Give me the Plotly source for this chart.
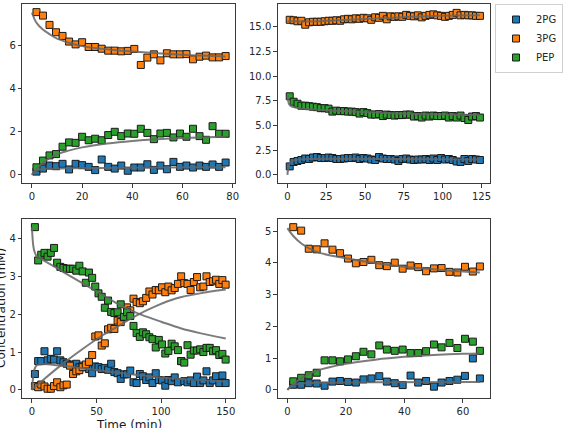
import plotly.graph_objects as go
from plotly.subplots import make_subplots

# ---------------- data ----------------
species = ["2PG", "3PG", "PEP"]
colors = {"2PG": "#1f77b4", "3PG": "#ff7f0e", "PEP": "#2ca02c"}

# Panel A (top-left)
tA = [1.8, 4.4, 7.0, 9.6, 12.2, 14.8, 17.4, 20.0, 22.6, 25.2, 27.8, 30.4, 33.0, 35.6, 38.2,
      40.8, 43.4, 46.0, 48.6, 51.2, 53.8, 56.4, 59.0, 61.6, 64.2, 66.8, 69.4, 72.0, 74.6, 77.2]
A_3PG = [7.52, 7.36, 6.93, 6.59, 6.42, 6.16, 6.03, 6.13, 5.91, 5.91, 5.83, 5.74, 5.74, 5.71, 5.73,
         5.82, 5.08, 5.42, 5.57, 5.29, 5.62, 5.57, 5.57, 5.58, 5.34, 5.46, 5.51, 5.43, 5.43, 5.49]
A_PEP = [0.35, 0.66, 0.90, 0.96, 1.30, 1.50, 1.48, 1.76, 1.60, 1.67, 1.60, 1.84, 1.99, 1.79, 1.91,
         1.90, 2.13, 1.94, 1.65, 1.91, 1.94, 1.73, 1.91, 1.76, 2.13, 1.79, 1.62, 2.25, 1.90, 1.90]
A_2PG = [0.15, 0.29, 0.43, 0.40, 0.51, 0.25, 0.51, 0.45, 0.37, 0.22, 0.71, 0.37, 0.29, 0.43, 0.19,
         0.34, 0.34, 0.49, 0.23, 0.43, 0.26, 0.60, 0.37, 0.43, 0.34, 0.43, 0.37, 0.48, 0.37, 0.57]
fitA_t3 = [0, 0.5, 1, 2, 4, 7, 10, 15, 20, 30, 40, 50, 60, 70, 77.2]
fitA_3PG = [7.5, 7.35, 7.2, 7.0, 6.75, 6.5, 6.3, 6.1, 5.95, 5.8, 5.7, 5.62, 5.55, 5.5, 5.47]
fitA_tP = [0, 2, 5, 10, 15, 20, 30, 40, 50, 60, 70, 77.2]
fitA_PEP = [0, 0.3, 0.62, 0.95, 1.13, 1.27, 1.45, 1.57, 1.65, 1.7, 1.74, 1.76]
fitA_t2 = [0, 1, 3, 6, 15, 30, 50, 77.2]
fitA_2PG = [0, 0.15, 0.25, 0.28, 0.30, 0.32, 0.34, 0.35]

# Panel B (top-right)
tB = [1.5, 4.0, 6.5, 9.0, 11.5, 14.0, 16.5, 19.0, 21.5, 24.0, 26.5, 29.0, 31.5, 34.0, 36.5,
      39.0, 41.5, 44.0, 46.5, 49.0, 51.5, 54.0, 56.5, 59.0, 61.5, 64.0, 66.5, 69.0, 71.5, 74.0,
      76.5, 79.0, 81.5, 84.0, 86.5, 89.0, 91.5, 94.0, 96.5, 99.0, 101.5, 104.0, 106.5, 109.0,
      111.5, 114.0, 116.5, 119.0, 121.5, 124.0]
B_3PG = [15.7, 15.65, 15.55, 15.6, 15.2, 15.45, 15.5, 15.5, 15.5, 15.55, 15.6, 15.6, 15.65, 15.6,
         15.75, 15.8, 15.75, 15.85, 15.8, 15.9, 15.85, 15.7, 15.95, 15.9, 16.1, 15.75, 16.05, 16.0,
         16.05, 16.0, 16.2, 16.1, 16.05, 16.15, 15.95, 16.1, 16.2, 16.25, 16.15, 16.1, 16.0, 16.1,
         16.2, 16.4, 16.15, 16.2, 16.15, 16.15, 16.1, 16.1]
B_PEP = [7.95, 7.4, 7.2, 7.0, 7.0, 6.95, 6.9, 6.85, 6.75, 6.75, 6.7, 6.4, 6.5, 6.45, 6.45, 6.4,
         6.4, 6.35, 6.2, 6.35, 6.25, 6.1, 6.1, 6.15, 5.95, 6.1, 6.05, 6.0, 6.05, 6.05, 6.1, 6.1,
         5.9, 5.95, 5.8, 6.0, 5.9, 6.0, 5.95, 5.95, 6.0, 5.8, 5.95, 5.8, 6.0, 5.75, 5.55, 5.9,
         5.95, 5.8]
B_2PG = [0.85, 1.3, 1.4, 1.5, 1.65, 1.6, 1.75, 1.8, 1.7, 1.7, 1.75, 1.7, 1.6, 1.6, 1.65, 1.7,
         1.7, 1.75, 1.6, 1.7, 1.65, 1.55, 1.5, 1.8, 1.65, 1.6, 1.6, 1.55, 1.4, 1.6, 1.65, 1.55,
         1.5, 1.55, 1.55, 1.6, 1.5, 1.65, 1.5, 1.7, 1.55, 1.6, 1.5, 1.35, 1.3, 1.6, 1.4, 1.6,
         1.55, 1.5]
fitB_t3 = [0, 20, 40, 60, 80, 100, 124]
fitB_3PG = [15.55, 15.55, 15.7, 15.85, 16.0, 16.1, 16.15]
fitB_tP = [0, 0.5, 1, 2, 4, 8, 15, 30, 50, 75, 100, 124]
fitB_PEP = [8.0, 7.5, 7.2, 7.0, 6.85, 6.75, 6.65, 6.5, 6.35, 6.2, 6.1, 6.05]
fitB_t2 = [0, 0.5, 1, 2, 4, 8, 15, 30, 60, 124]
fitB_2PG = [0, 0.6, 0.95, 1.25, 1.45, 1.55, 1.6, 1.62, 1.6, 1.55]

# Panel C (bottom-left)
tC = [2.3, 4.8, 7.2, 9.7, 12.1, 14.6, 17.1, 19.5, 22.0, 24.4, 26.9, 29.4, 31.8, 34.3, 36.7,
      39.2, 41.7, 44.1, 46.6, 49.0, 51.5, 54.0, 56.4, 58.9, 61.3, 63.8, 66.3, 68.7, 71.2, 73.6,
      76.1, 78.6, 81.0, 83.5, 85.9, 88.4, 90.9, 93.3, 95.8, 98.2, 100.7, 103.2, 105.6, 108.1,
      110.5, 113.0, 115.5, 117.9, 120.4, 122.8, 125.3, 127.8, 130.2, 132.7, 135.1, 137.6, 140.1,
      142.5, 145.0, 147.4, 149.9]
C_PEP = [4.30, 3.42, 3.57, 3.62, 3.52, 3.62, 3.75, 3.36, 3.25, 3.22, 3.20, 3.20, 3.20, 3.15,
         3.28, 3.13, 2.83, 3.10, 2.96, 2.73, 2.55, 2.46, 2.17, 2.36, 2.06, 2.03, 2.05, 2.26, 1.93,
         2.05, 1.95, 1.69, 1.50, 1.40, 1.52, 1.47, 1.39, 1.34, 1.12, 1.32, 1.20, 0.96, 1.03, 1.22,
         1.15, 1.05, 0.76, 0.72, 1.18, 0.93, 1.04, 1.04, 1.07, 1.00, 1.11, 1.11, 1.02, 1.05, 0.92,
         0.95, 0.80]
C_3PG = [0.10, 0.07, 0.14, 0.09, 0.03, 0.03, 0.10, 0.20, 0.07, 0.12, 0.14, 0.64, 0.42, 0.49,
         0.52, 0.60, 0.67, 0.74, 0.92, 1.41, 1.44, 1.17, 1.23, 1.60, 1.64, 1.61, 1.83, 1.79, 1.92,
         2.18, 2.10, 2.41, 2.32, 2.29, 2.34, 2.43, 2.60, 2.52, 2.64, 2.63, 2.71, 2.58, 2.73, 2.63,
         2.69, 2.80, 3.00, 2.82, 2.80, 2.64, 2.85, 2.98, 2.71, 2.73, 3.00, 2.85, 2.87, 2.91, 2.80,
         2.90, 2.78]
C_2PG = [0.42, 0.76, 0.76, 1.02, 0.78, 0.82, 0.80, 1.02, 0.78, 0.73, 0.69, 0.67, 0.64, 0.69,
         0.60, 0.64, 0.60, 0.55, 0.44, 0.62, 0.60, 0.55, 0.58, 0.53, 0.69, 0.47, 0.44, 0.29, 0.41,
         0.41, 0.51, 0.20, 0.18, 0.42, 0.36, 0.26, 0.33, 0.18, 0.44, 0.26, 0.25, 0.11, 0.26, 0.23,
         0.33, 0.20, 0.76, 0.23, 0.20, 0.25, 0.18, 0.35, 0.18, 0.25, 0.49, 0.18, 0.25, 0.36, 0.18,
         0.38, 0.18]
fitC_tP = [0, 0.5, 1, 2, 4, 8, 15, 25, 35, 45, 55, 65, 75, 85, 100, 115, 130, 150]
fitC_PEP = [4.3, 4.0, 3.82, 3.65, 3.52, 3.44, 3.3, 3.1, 2.9, 2.7, 2.5, 2.3, 2.12, 1.98, 1.8,
            1.63, 1.5, 1.36]
fitC_t3 = [0, 10, 25, 40, 55, 70, 80, 95, 112, 130, 150]
fitC_3PG = [0.0, 0.3, 0.72, 1.1, 1.45, 1.75, 1.95, 2.2, 2.42, 2.55, 2.65]
fitC_t2 = [0, 1, 2, 4, 8, 20, 40, 60, 80, 100, 125, 150]
fitC_2PG = [0, 0.35, 0.55, 0.66, 0.68, 0.65, 0.57, 0.48, 0.40, 0.33, 0.27, 0.22]

# Panel D (bottom-right)
tD = [2.0, 4.7, 7.3, 10.0, 12.7, 15.4, 18.0, 20.7, 23.4, 26.0, 28.7, 31.4, 34.0, 36.7, 39.4,
      42.1, 44.7, 47.4, 50.1, 52.7, 55.4, 58.1, 60.7, 63.4, 65.8]
D_3PG = [5.13, 5.02, 4.45, 4.43, 4.62, 4.42, 4.31, 4.14, 3.99, 4.03, 4.10, 3.93, 3.90, 4.01,
         3.82, 3.92, 3.87, 3.74, 3.83, 3.84, 3.72, 3.70, 3.88, 3.73, 3.89]
D_PEP = [0.27, 0.38, 0.46, 0.54, 0.93, 0.93, 0.90, 0.96, 1.06, 1.20, 1.12, 1.40, 1.27, 1.23,
         1.27, 1.16, 1.16, 1.22, 1.43, 1.34, 1.48, 1.32, 1.61, 1.52, 1.23]
D_2PG = [0.16, 0.16, 0.21, 0.20, 0.13, 0.26, 0.28, 0.25, 0.23, 0.33, 0.36, 0.43, 0.26, 0.21,
         0.15, 0.45, 0.23, 0.28, 0.10, 0.23, 0.28, 0.32, 0.44, 0.99, 0.36]
fitD_t3 = [0, 2, 5, 10, 20, 30, 40, 50, 60, 65.8]
fitD_3PG = [5.1, 4.85, 4.6, 4.35, 4.15, 4.0, 3.88, 3.8, 3.73, 3.7]
fitD_tP = [0, 2, 5, 10, 20, 30, 40, 50, 60, 65.8]
fitD_PEP = [0, 0.18, 0.38, 0.6, 0.82, 0.95, 1.04, 1.1, 1.14, 1.15]
fitD_t2 = [0, 1, 2, 5, 10, 30, 65.8]
fitD_2PG = [0, 0.1, 0.15, 0.2, 0.22, 0.24, 0.25]

# tick labels
ticksA_x = [0, 20, 40, 60, 80]; ticksA_y = [0, 2, 4, 6]
ticksB_x = [0, 25, 50, 75, 100, 125]; ticksB_y = [0, 2.5, 5, 7.5, 10, 12.5, 15]
ticksC_x = [0, 50, 100, 150]; ticksC_y = [0, 1, 2, 3, 4]
ticksD_x = [0, 20, 40, 60]; ticksD_y = [0, 1, 2, 3, 4, 5]

# ---------------- figure ----------------
W, H = 563, 428
fig = make_subplots(rows=2, cols=2)

panels = [
    (1, 1, tA, {"2PG": A_2PG, "3PG": A_3PG, "PEP": A_PEP},
     [(fitA_t2, fitA_2PG), (fitA_t3, fitA_3PG), (fitA_tP, fitA_PEP)]),
    (1, 2, tB, {"2PG": B_2PG, "3PG": B_3PG, "PEP": B_PEP},
     [(fitB_t2, fitB_2PG), (fitB_t3, fitB_3PG), (fitB_tP, fitB_PEP)]),
    (2, 1, tC, {"2PG": C_2PG, "3PG": C_3PG, "PEP": C_PEP},
     [(fitC_t2, fitC_2PG), (fitC_t3, fitC_3PG), (fitC_tP, fitC_PEP)]),
    (2, 2, tD, {"2PG": D_2PG, "3PG": D_3PG, "PEP": D_PEP},
     [(fitD_t2, fitD_2PG), (fitD_t3, fitD_3PG), (fitD_tP, fitD_PEP)]),
]

for k, (r, c, t, series, fits) in enumerate(panels):
    for sp in species:
        fig.add_trace(go.Scatter(
            x=t, y=series[sp], mode="markers", name=sp,
            legendgroup=sp, showlegend=(k == 1),
            marker=dict(symbol="square", size=7, color=colors[sp],
                        line=dict(color="#1a1a1a", width=1)),
        ), row=r, col=c)
    for ft, fv in fits:
        fig.add_trace(go.Scatter(
            x=ft, y=fv, mode="lines", showlegend=False, hoverinfo="skip",
            line=dict(color="rgba(100,100,100,0.85)", width=2, shape="spline"),
        ), row=r, col=c)

axis_style = dict(showline=True, mirror=True, linecolor="#3a3a3a", linewidth=1,
                  ticks="outside", ticklen=3.5, tickwidth=0.8, tickcolor="#3a3a3a",
                  showgrid=False, zeroline=False,
                  tickfont=dict(family="DejaVu Sans", size=10, color="#262626"))


def dx(a, b):
    return [a / W, b / W]


def dy(top, bottom):
    return [1 - bottom / H, 1 - top / H]


cfg = [
    ("xaxis", "yaxis", dx(22.7, 240), dy(4, 183), [-3.86, 81.06], [-0.376, 7.896], ticksA_x, ticksA_y, None),
    ("xaxis2", "yaxis2", dx(283.3, 499.3), dy(4, 183), [-6.2, 130.2], [-0.83, 17.3], ticksB_x, ticksB_y, ".1f"),
    ("xaxis3", "yaxis3", dx(22.7, 240), dy(219, 398), [-7.5, 157.4], [-0.215, 4.515], ticksC_x, ticksC_y, None),
    ("xaxis4", "yaxis4", dx(283.3, 499.3), dy(219, 398), [-3.3, 69.1], [-0.257, 5.387], ticksD_x, ticksD_y, None),
]
for xa, ya, xd, yd, xr, yr, xt, yt, yfmt in cfg:
    fig.layout[xa].update(domain=xd, range=xr, tickvals=xt, **axis_style)
    ykw = dict(domain=yd, range=yr, tickvals=yt, **axis_style)
    if yfmt:
        ykw["tickformat"] = yfmt
    fig.layout[ya].update(**ykw)

fig.add_annotation(text="Concentration (mM)", xref="paper", yref="paper",
                   x=1 / W, y=1 - 308 / H, xanchor="center", yanchor="middle",
                   textangle=-90, showarrow=False,
                   font=dict(family="DejaVu Sans", size=12, color="#1a1a1a"))
fig.add_annotation(text="Time (min)", xref="paper", yref="paper",
                   x=131.3 / W, y=1 - 416 / H, xanchor="center", yanchor="top",
                   showarrow=False,
                   font=dict(family="DejaVu Sans", size=12, color="#1a1a1a"))

fig.update_layout(
    width=W, height=H, margin=dict(l=0, r=0, t=0, b=0),
    paper_bgcolor="white", plot_bgcolor="white",
    font=dict(family="DejaVu Sans", size=10, color="#262626"),
    legend=dict(x=505 / W, y=1 - 4 / H, xanchor="left", yanchor="top",
                bordercolor="#d0d0d0", borderwidth=1, bgcolor="white",
                font=dict(family="DejaVu Sans", size=10, color="#262626"),
                tracegroupgap=0, itemwidth=30),
)

fig.write_html("out.html")
